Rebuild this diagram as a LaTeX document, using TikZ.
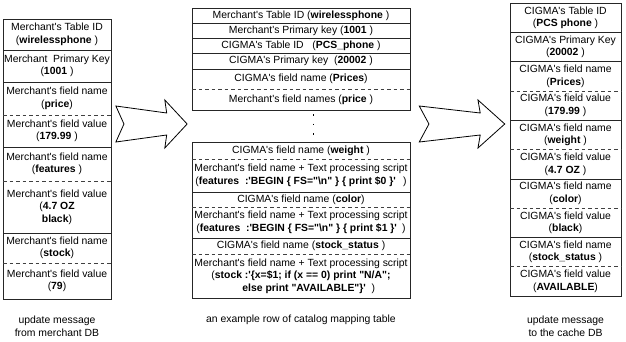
\documentclass[tikz,border=0pt]{standalone}
\usepackage{fontspec}
\setmainfont{Liberation Sans}[Ligatures=TeXOff]
\usetikzlibrary{positioning}
\tikzset{
  cell/.style={inner sep=0pt,outer sep=0pt,align=center,minimum height=#1},
  srccell/.style={cell=#1,minimum width=108pt},
  mapcell/.style={cell=#1,minimum width=218pt},
  dstcell/.style={cell=#1,minimum width=111pt},
  frame/.style={draw=black!85,line width=0.7pt},
  rowline/.style={draw=black!85,line width=0.6pt},
  dashline/.style={draw=black!75,line width=0.6pt,dash pattern=on 3.5pt off 3pt},
  dotline/.style={draw=black,line width=1pt,dash pattern=on 1.5pt off 8pt},
  captext/.style={align=center,inner sep=0pt,font=\fontsize{10.4}{13.5}\selectfont},
  blockarrow/.pic={
    \draw[line width=0.8pt,line join=miter,fill=white]
      (-37.5,18) -- (16,11) -- (14,24) -- (37.5,0) -- (14,-24) -- (16,-11)
      -- (-37.5,-18) -- (-29,0) -- cycle;
  }
}

\begin{document}
\begin{tikzpicture}[x=1pt,y=1pt,font=\fontsize{10.4}{12.5}\selectfont]
  \useasboundingbox (0,0) rectangle (626,341);
  % update message from the merchant side
  \node[srccell=31] (src1) at (57,306.5) {Merchant's Table ID\\(\textbf{wirelessphone} )};
  \node[srccell=32,below=0pt of src1] (src2) {Merchant \ Primary Key\\(\textbf{1001} )};
  \node[srccell=33,below=0pt of src2] (src3) {Merchant's field name\\(\textbf{price})};
  \node[srccell=32,below=0pt of src3] (src4) {Merchant's field value\\(\textbf{179.99} )};
  \node[srccell=34,below=0pt of src4] (src5) {Merchant's field name\\(\textbf{features} )};
  \node[srccell=52,below=0pt of src5] (src6) {Merchant's field value\\(\textbf{4.7 OZ}\\\textbf{black})};
  \node[srccell=30,below=0pt of src6] (src7) {Merchant's field name\\(\textbf{stock})};
  \node[srccell=36,below=0pt of src7] (src8) {Merchant's field value\\(\textbf{79})};
  \draw[frame] (src1.north west) rectangle (src8.south east);
  \draw[rowline] (src1.south west) -- (src1.south east); \draw[rowline] (src2.south west) -- (src2.south east);
  \draw[dashline] (src3.south west) -- (src3.south east); \draw[rowline] (src4.south west) -- (src4.south east);
  \draw[dashline] (src5.south west) -- (src5.south east); \draw[rowline] (src6.south west) -- (src6.south east);
  \draw[dashline] (src7.south west) -- (src7.south east);

  % mapping table row
  \node[mapcell=15] (map1) at (301,325.5) {Merchant's Table ID (\textbf{wirelessphone} )};
  \node[mapcell=15,below=0pt of map1] (map2) {Merchant's Primary key (\textbf{1001} )};
  \node[mapcell=15,below=0pt of map2] (map3) {CIGMA's Table ID \ \ (\textbf{PCS\_phone} )};
  \node[mapcell=16,below=0pt of map3] (map4) {CIGMA's Primary key \ (\textbf{20002} )};
  \node[mapcell=20,below=0pt of map4] (map5) {CIGMA's field name (\textbf{Prices})};
  \node[mapcell=21,below=0pt of map5] (map6) {Merchant's field names (\textbf{price} )};
  \draw[frame] (map1.north west) rectangle (map6.south east);
  \draw[rowline] (map1.south west) -- (map1.south east); \draw[rowline] (map2.south west) -- (map2.south east);
  \draw[rowline] (map3.south west) -- (map3.south east); \draw[rowline] (map4.south west) -- (map4.south east);
  \draw[dashline] (map5.south west) -- (map5.south east);

  \node[mapcell=17] (map7) at (301,190.5) {CIGMA's field name (\textbf{weight} )};
  \node[mapcell=33,below=0pt of map7] (map8) {Merchant's field name + Text processing script\\
    (\textbf{features \ :'BEGIN \{ FS="\textbackslash n" \} \{ print \$0 \}'}\hspace{0.7em})};
  \node[mapcell=15,below=0pt of map8] (map9) {CIGMA's field name (\textbf{color})};
  \node[mapcell=31,below=0pt of map9] (map10) {Merchant's field name + Text processing script\\
    (\textbf{features \ :'BEGIN \{ FS="\textbackslash n" \} \{ print \$1 \}'}\hspace{0.5em})};
  \node[mapcell=16,below=0pt of map10] (map11) {CIGMA's field name (\textbf{stock\_status} )};
  \node[mapcell=44,below=0pt of map11] (map12) {Merchant's field name + Text processing script\\
    (\textbf{stock :'\{x=\$1; if (x == 0) print "N/A";}\\
    \hspace{1.5em}\textbf{else print "AVAILABLE"\}'} \ )};
  \draw[frame] (map7.north west) rectangle (map12.south east);
  \draw[dashline] (map7.south west) -- (map7.south east); \draw[rowline] (map8.south west) -- (map8.south east);
  \draw[dashline] (map9.south west) -- (map9.south east); \draw[rowline] (map10.south west) -- (map10.south east);
  \draw[dashline] (map11.south west) -- (map11.south east);
  \draw[dotline] ([xshift=12pt,yshift=-4pt]map6.south) -- ([xshift=12pt,yshift=2pt]map7.north);

  % update message sent to the cache
  \node[dstcell=29.3] (dst1) at (565.5,323.35) {CIGMA's Table ID\\(\textbf{PCS phone} )};
  \node[dstcell=29.3,below=0pt of dst1] (dst2) {CIGMA's Primary Key\\(\textbf{20002} )};
  \node[dstcell=29.3,below=0pt of dst2] (dst3) {CIGMA's field name\\(\textbf{Prices})};
  \node[dstcell=29.3,below=0pt of dst3] (dst4) {CIGMA's field value\\(\textbf{179.99} )};
  \node[dstcell=29.3,below=0pt of dst4] (dst5) {CIGMA's field name\\(\textbf{weight} )};
  \node[dstcell=29.3,below=0pt of dst5] (dst6) {CIGMA's field value\\(\textbf{4.7 OZ} )};
  \node[dstcell=29.3,below=0pt of dst6] (dst7) {CIGMA's field name\\(\textbf{color})};
  \node[dstcell=29.3,below=0pt of dst7] (dst8) {CIGMA's field value\\(\textbf{black})};
  \node[dstcell=29.3,below=0pt of dst8] (dst9) {CIGMA's field name\\(\textbf{stock\_status} )};
  \node[dstcell=29.3,below=0pt of dst9] (dst10) {CIGMA's field value\\(\textbf{AVAILABLE})};
  \draw[frame] (dst1.north west) rectangle (dst10.south east);
  \draw[rowline] (dst1.south west) -- (dst1.south east); \draw[rowline] (dst2.south west) -- (dst2.south east);
  \draw[dashline] (dst3.south west) -- (dst3.south east); \draw[rowline] (dst4.south west) -- (dst4.south east);
  \draw[dashline] (dst5.south west) -- (dst5.south east); \draw[rowline] (dst6.south west) -- (dst6.south east);
  \draw[dashline] (dst7.south west) -- (dst7.south east); \draw[rowline] (dst8.south west) -- (dst8.south east);
  \draw[dashline] (dst9.south west) -- (dst9.south east);

  \pic[xscale=0.95] at (151.5,217) {blockarrow};
  \pic[xscale=1.14] at (462,217) {blockarrow};

  \node[captext] (srccap) at (57,14.5) {update message\\from merchant DB};
  \node[captext] (mapcap) at (301,21) {an example row of catalog mapping table};
  \node[captext] (dstcap) at (565.5,14.5) {update message\\to the cache DB};
\end{tikzpicture}
\end{document}
